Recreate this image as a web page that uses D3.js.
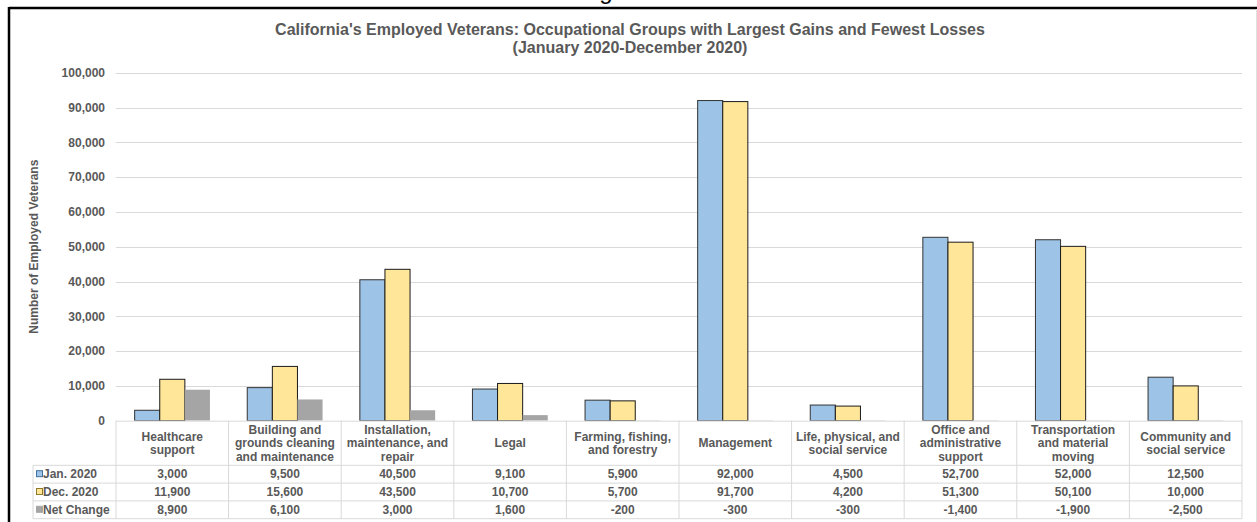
<!DOCTYPE html>
<html>
<head>
<meta charset="utf-8">
<script src="https://cdn.jsdelivr.net/npm/d3@7"></script>
<style>
  html, body { margin: 0; padding: 0; background: #fff; }
  svg { display: block; font-family: Arial, "Liberation Sans", sans-serif; }
</style>
</head>
<body>
<svg id="chart" width="1257" height="522"></svg>
<script>
// Occupational groups (column headers of the data table, one array of lines each)
const categories = [
  "Healthcare support",
  "Building and grounds cleaning and maintenance",
  "Installation, maintenance, and repair",
  "Legal",
  "Farming, fishing, and forestry",
  "Management",
  "Life, physical, and social service",
  "Office and administrative support",
  "Transportation and material moving",
  "Community and social service"
];
const categoryLines = [
  ["Healthcare", "support"],
  ["Building and", "grounds cleaning", "and maintenance"],
  ["Installation,", "maintenance, and", "repair"],
  ["Legal"],
  ["Farming, fishing,", "and forestry"],
  ["Management"],
  ["Life, physical, and", "social service"],
  ["Office and", "administrative", "support"],
  ["Transportation", "and material", "moving"],
  ["Community and", "social service"]
];

const seriesNames = ["Jan. 2020", "Dec. 2020", "Net Change"];
const jan2020 = [3000, 9500, 40500, 9100, 5900, 92000, 4500, 52700, 52000, 12500];
const dec2020 = [11900, 15600, 43500, 10700, 5700, 91700, 4200, 51300, 50100, 10000];
const netChange = [8900, 6100, 3000, 1600, -200, -300, -300, -1400, -1900, -2500];

const yTicks = [0, 10000, 20000, 30000, 40000, 50000, 60000, 70000, 80000, 90000, 100000];

const seriesValues = [jan2020, dec2020, netChange];
const seriesFill = ["#9DC3E6", "#FFE699", "#A5A5A5"];
const seriesStroke = ["#333333", "#1a1a1a", "none"];
const keyStroke = ["#41719C", "#8f7a2a", "#A5A5A5"];

const textColor = "#595959";
const gridColor = "#D9D9D9";
const fontSize = 12;

const svg = d3.select("#chart");

// Plot frame
const plot = { left: 116, right: 1242, top: 72.7, bottom: 420.7 };

const x = d3.scaleBand().domain(categories).range([plot.left, plot.right]).padding(0);
const xSub = d3.scaleBand().domain(seriesNames).range([0, x.bandwidth()])
  .paddingInner(0).paddingOuter(0.743);
const y = d3.scaleLinear().domain([0, 100000]).range([plot.bottom, plot.top]);

const fmt = d3.formatLocale({ decimal: ".", thousands: ",", grouping: [3], currency: ["$", ""], minus: "-" }).format(",");

// Outer frame of the chart object
svg.append("line").attr("x1", 9).attr("x2", 1257).attr("y1", 8).attr("y2", 8)
  .attr("stroke", "#000").attr("stroke-width", 2.5);
svg.append("line").attr("x1", 9).attr("x2", 9).attr("y1", 7).attr("y2", 522)
  .attr("stroke", "#000").attr("stroke-width", 2.5);
svg.append("line").attr("x1", 1256.5).attr("x2", 1256.5).attr("y1", 9).attr("y2", 522)
  .attr("stroke", "#E0E0E0").attr("stroke-width", 1);

// Heading above the frame (only its lower part falls inside the page)
svg.append("text").attr("x", 606).attr("y", -1).attr("text-anchor", "middle")
  .attr("font-size", 24).attr("fill", "#000").text("g");

// Title
const title = svg.append("text").attr("text-anchor", "middle").attr("fill", textColor)
  .attr("font-weight", "bold").attr("font-size", 16);
title.append("tspan").attr("x", 630).attr("y", 35)
  .text("California's Employed Veterans: Occupational Groups with Largest Gains and Fewest Losses");
title.append("tspan").attr("x", 630).attr("y", 53)
  .text("(January 2020-December 2020)");

// Gridlines
svg.append("g").selectAll("line").data(yTicks.filter(d => d > 0)).join("line")
  .attr("x1", plot.left).attr("x2", plot.right)
  .attr("y1", d => Math.round(y(d)) + 0.5).attr("y2", d => Math.round(y(d)) + 0.5)
  .attr("stroke", gridColor).attr("stroke-width", 1);

// Y axis labels
const yAxis = svg.append("g").attr("transform", `translate(${plot.left},0)`)
  .call(d3.axisLeft(y).tickValues(yTicks).tickFormat(fmt).tickSize(0).tickPadding(11));
yAxis.select(".domain").remove();
yAxis.selectAll("text").attr("fill", textColor).attr("font-size", fontSize)
  .attr("font-weight", "bold").attr("font-family", "Arial, 'Liberation Sans', sans-serif");

// Y axis title
svg.append("text")
  .attr("transform", `translate(38,${(plot.top + plot.bottom) / 2}) rotate(-90)`)
  .attr("text-anchor", "middle").attr("fill", textColor)
  .attr("font-size", fontSize).attr("font-weight", "bold")
  .text("Number of Employed Veterans");

// Bars (clipped to the plot area, axis minimum is 0)
svg.append("clipPath").attr("id", "plotClip").append("rect")
  .attr("x", plot.left).attr("y", 0).attr("width", plot.right - plot.left).attr("height", plot.bottom);

const barData = [];
categories.forEach((c, i) => {
  seriesNames.forEach((s, j) => {
    barData.push({ c, s, j, v: seriesValues[j][i] });
  });
});

svg.append("g").attr("clip-path", "url(#plotClip)")
  .selectAll("rect").data(barData).join("rect")
  .attr("x", d => x(d.c) + xSub(d.s))
  .attr("width", xSub.bandwidth())
  .attr("y", d => Math.min(y(d.v), y(0)))
  .attr("height", d => Math.abs(y(d.v) - y(0)))
  .attr("fill", d => seriesFill[d.j])
  .attr("stroke", d => seriesStroke[d.j])
  .attr("stroke-width", 1);

// Data table
const table = { legendLeft: 33, headerTop: plot.bottom, headerBottom: 465.3, rowH: 17.8 };
const rowsTop = table.headerBottom;
const tableBottom = rowsTop + table.rowH * 3;
const tg = svg.append("g");

// horizontal rules
tg.append("line").attr("x1", plot.left).attr("x2", plot.right)
  .attr("y1", table.headerTop + 0.5).attr("y2", table.headerTop + 0.5)
  .attr("stroke", gridColor);
[0, 1, 2, 3].forEach(k => {
  const yy = rowsTop + k * table.rowH;
  tg.append("line").attr("x1", table.legendLeft).attr("x2", plot.right)
    .attr("y1", yy).attr("y2", yy).attr("stroke", gridColor);
});
// vertical rules
const colEdges = categories.map(c => x(c)).concat([plot.right]);
tg.selectAll("line.col").data(colEdges).join("line").attr("class", "col")
  .attr("x1", d => d).attr("x2", d => d)
  .attr("y1", table.headerTop).attr("y2", tableBottom)
  .attr("stroke", gridColor);
tg.append("line").attr("x1", table.legendLeft).attr("x2", table.legendLeft)
  .attr("y1", rowsTop).attr("y2", tableBottom).attr("stroke", gridColor);

// header text
const headerMid = 443;
const lineH = 13.4;
categories.forEach((c, i) => {
  const lines = categoryLines[i];
  const t = tg.append("text").attr("text-anchor", "middle").attr("fill", textColor)
    .attr("font-size", fontSize).attr("font-weight", "bold");
  lines.forEach((ln, k) => {
    t.append("tspan").attr("x", x(c) + x.bandwidth() / 2)
      .attr("y", headerMid + (k - (lines.length - 1) / 2) * lineH)
      .attr("dy", "0.35em").text(ln);
  });
});

// rows: legend key + values
seriesNames.forEach((s, j) => {
  const cy = rowsTop + (j + 0.5) * table.rowH;
  tg.append("rect").attr("x", 36.5).attr("y", cy - 3.5).attr("width", 6).attr("height", 6)
    .attr("fill", seriesFill[j]).attr("stroke", keyStroke[j]).attr("stroke-width", 1);
  tg.append("text").attr("x", 43).attr("y", cy).attr("dy", "0.35em")
    .attr("fill", textColor).attr("font-size", fontSize).attr("font-weight", "bold").text(s);
  tg.selectAll(null).data(categories).join("text")
    .attr("x", c => x(c) + x.bandwidth() / 2).attr("y", cy).attr("dy", "0.35em")
    .attr("text-anchor", "middle").attr("fill", textColor)
    .attr("font-size", fontSize).attr("font-weight", "bold")
    .text((c, i) => fmt(seriesValues[j][i]));
});
</script>
</body>
</html>
